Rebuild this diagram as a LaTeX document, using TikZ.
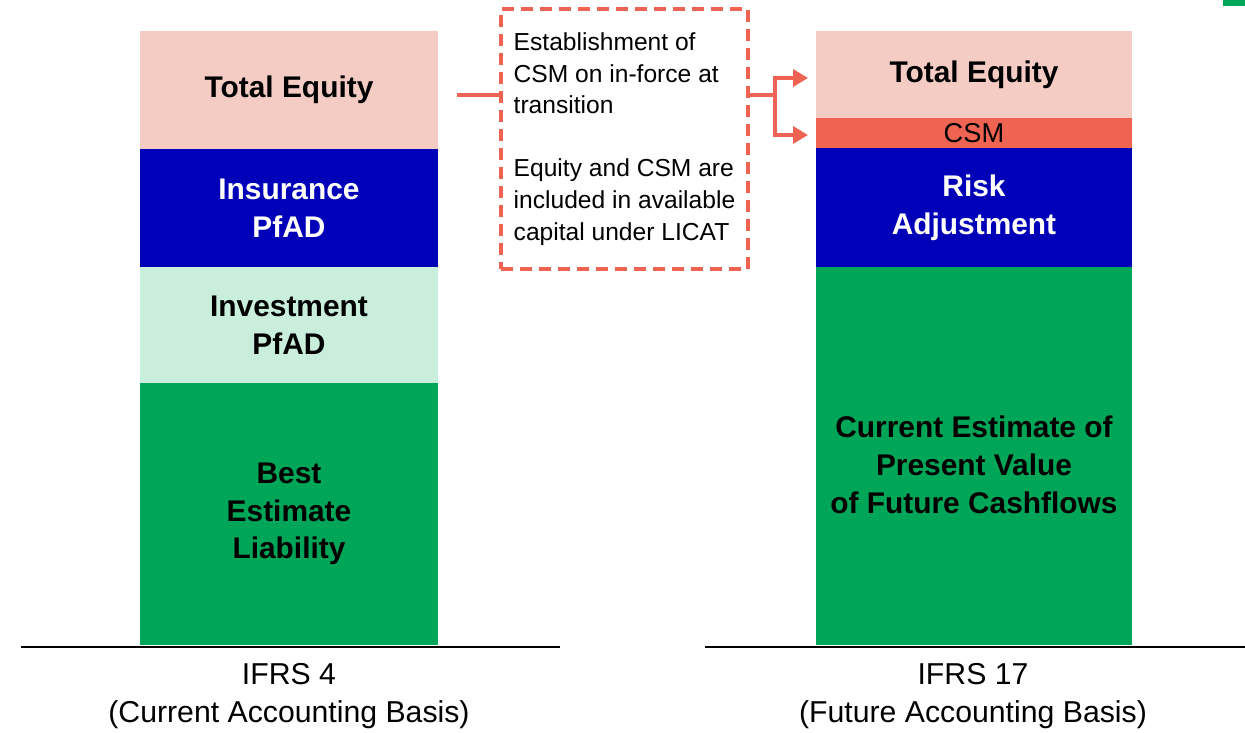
\documentclass[tikz,border=0pt]{standalone}
\usepackage{fontspec}
\setmainfont{Liberation Sans}
\usepackage{xcolor}
\usetikzlibrary{positioning,arrows.meta}

\definecolor{eqpink}{HTML}{F4CCC4}
\definecolor{pfadblue}{HTML}{0000B8}
\definecolor{invgreen}{HTML}{CAEEDC}
\definecolor{belgreen}{HTML}{00A658}
\definecolor{csmred}{HTML}{EE6352}

\newcommand{\segfont}{\fontsize{17}{21.5}\bfseries\selectfont}
\newcommand{\notefont}{\fontsize{14}{18}\selectfont}
\newcommand{\basisfont}{\fontsize{17.2}{21.5}\selectfont}

\begin{document}
\begin{tikzpicture}[y=-1cm,thick,
  seg node/.style={rectangle,fill,outer sep=0pt,inner sep=0pt,align=center,font=\segfont},
  left seg/.style={seg node,minimum width=5.96cm},
  right seg/.style={seg node,minimum width=6.32cm},
  link/.style={draw=csmred,line width=2pt},
  arr/.style={link,-{Triangle[length=0.3cm,width=0.34cm]},shorten >=0.16cm}]

  \useasboundingbox (0,0) rectangle (24.9,14.66);
  \fill[belgreen] (24.46,0) rectangle (24.9,0.12);

  % IFRS 4 column
  \node[left seg,fill=eqpink,minimum height=2.36cm,anchor=north] (eqL) at (5.78,0.62) {Total Equity};
  \node[left seg,fill=pfadblue,text=white,minimum height=2.36cm] (insL) [below=0pt of eqL] {Insurance\\PfAD};
  \node[left seg,fill=invgreen,minimum height=2.32cm] (invL) [below=0pt of insL] {Investment\\PfAD};
  \node[left seg,fill=belgreen,minimum height=5.24cm] (belL) [below=0pt of invL] {Best\\Estimate\\Liability};

  % IFRS 17 column
  \node[right seg,fill=eqpink,minimum height=1.74cm,anchor=north] (eqR) at (19.48,0.62) {Total Equity};
  \node[right seg,fill=csmred,minimum height=0.6cm,font=\fontsize{15.5}{18}\selectfont] (csmR) [below=0pt of eqR] {CSM};
  \node[right seg,fill=pfadblue,text=white,minimum height=2.38cm] (raR) [below=0pt of csmR] {Risk\\Adjustment};
  \node[right seg,fill=belgreen,minimum height=7.56cm,
        label={[font=\segfont,align=center,yshift=-0.18cm]center:Current Estimate of\\Present Value\\of Future Cashflows}] (cefR) [below=0pt of raR] {};

  % note
  \node[draw=csmred,line width=1.8pt,dash pattern=on 0.24cm off 0.14cm,
        minimum width=4.94cm,minimum height=5.2cm,
        align=left,font=\notefont] (note) at (12.49,2.78)
        {Establishment of\\CSM on in-force at\\transition\\[18pt]Equity and CSM are\\included in available\\capital under LICAT};

  \coordinate (inl) at (9.14,1.9);
  \coordinate (fork) at (15.5,1.9);
  \draw[link] (inl) -- (inl -| note.west);
  \draw[link] (note.east |- fork) -- (fork);
  \draw[arr] (fork) |- (eqR.west |- 0,1.56);
  \draw[arr] (fork) |- (csmR.west |- 0,2.7);

  % base lines and captions
  \draw[line width=1.1pt] (0.42,12.94) -- (11.2,12.94);
  \draw[line width=1.1pt] (14.1,12.94) -- (24.9,12.94);
  \node[align=center,font=\basisfont] (capL) at (5.78,13.92) {IFRS 4\\(Current Accounting Basis)};
  \node[align=center,font=\basisfont] (capR) at (19.46,13.92) {IFRS 17\\(Future Accounting Basis)};

\end{tikzpicture}
\end{document}
